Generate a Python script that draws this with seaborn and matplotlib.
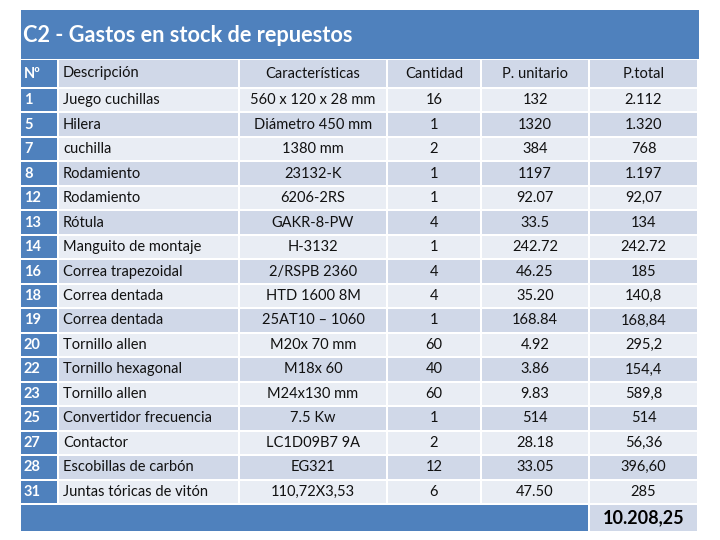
import matplotlib
matplotlib.use("Agg")
import matplotlib.pyplot as plt
import seaborn as sns
from matplotlib.patches import Rectangle

# table content
title = "C2 - Gastos en stock de repuestos"
headers = ["Nº", "Descripción", "Características", "Cantidad", "P. unitario", "P.total"]
numeros = ["1", "5", "7", "8", "12", "13", "14", "16", "18", "19", "20", "22", "23", "25", "27", "28", "31"]
descripcion = ["Juego cuchillas", "Hilera", "cuchilla", "Rodamiento", "Rodamiento", "Rótula",
               "Manguito de montaje", "Correa trapezoidal", "Correa dentada", "Correa dentada",
               "Tornillo allen", "Tornillo hexagonal", "Tornillo allen", "Convertidor frecuencia",
               "Contactor", "Escobillas de carbón", "Juntas tóricas de vitón"]
caracteristicas = ["560 x 120 x 28 mm", "Diámetro 450 mm", "1380 mm", "23132-K", "6206-2RS",
                   "GAKR-8-PW", "H-3132", "2/RSPB 2360", "HTD 1600 8M", "25AT10 – 1060",
                   "M20x 70 mm", "M18x 60", "M24x130 mm", "7.5 Kw", "LC1D09B7 9A", "EG321",
                   "110,72X3,53"]
cantidad = ["16", "1", "2", "1", "1", "4", "1", "4", "4", "1", "60", "40", "60", "1", "2", "12", "6"]
p_unitario = ["132", "1320", "384", "1197", "92.07", "33.5", "242.72", "46.25", "35.20", "168.84",
              "4.92", "3.86", "9.83", "514", "28.18", "33.05", "47.50"]
p_total = ["2.112", "1.320", "768", "1.197", "92,07", "134", "242.72", "185", "140,8", "168,84",
           "295,2", "154,4", "589,8", "514", "56,36", "396,60", "285"]
total = "10.208,25"

sns.set_theme(style="white")
plt.rcParams["font.family"] = ["Lato", "DejaVu Sans"]

BLUE = "#4F81BD"
DARK = "#D0D8E8"
LIGHT = "#E9EDF4"

col_edges = [21, 59, 240, 388, 482, 590, 699]
gap = 2

fig = plt.figure(figsize=(7.2, 5.4), dpi=100)
ax = fig.add_axes([0, 0, 1, 1])
ax.set_xlim(0, 720)
ax.set_ylim(540, 0)
ax.axis("off")


def cell(x0, x1, y0, y1, color):
    ax.add_patch(Rectangle((x0, y0), x1 - x0 - gap, y1 - y0 - gap, facecolor=color, edgecolor="none"))


# title bar
cell(21, 699 + gap, 10, 59 + gap, BLUE)
ax.text(23, 36, title, color="white", fontsize=15.7, fontweight="bold", va="center", ha="left")

# row edges
n = len(numeros)
header_top, header_bot = 60, 89
row_h = (505 - header_bot) / n
row_tops = [header_bot + i * row_h for i in range(n)]


def put(ci, y_mid, txt, **kw):
    x0, x1 = col_edges[ci], col_edges[ci + 1] - gap
    if ci == 0:
        ax.text(x0 + 3, y_mid, txt, ha="left", va="center", **kw)
    elif ci == 1:
        ax.text(x0 + 4, y_mid, txt, ha="left", va="center", **kw)
    else:
        ax.text((x0 + x1) / 2, y_mid, txt, ha="center", va="center", **kw)


# header
for ci, h in enumerate(headers):
    cell(col_edges[ci], col_edges[ci + 1], header_top, header_bot, BLUE if ci == 0 else DARK)
    put(ci, (header_top + header_bot - gap) / 2, h,
        color="white" if ci == 0 else "#111111", fontsize=10.5,
        fontweight="bold" if ci == 0 else "normal")

# body
columns = [numeros, descripcion, caracteristicas, cantidad, p_unitario, p_total]
for ri in range(n):
    y0 = row_tops[ri]
    y1 = y0 + row_h
    bg = LIGHT if ri % 2 == 0 else DARK
    for ci, col in enumerate(columns):
        cell(col_edges[ci], col_edges[ci + 1], y0, y1, BLUE if ci == 0 else bg)
        put(ci, (y0 + y1 - gap) / 2, col[ri],
            color="white" if ci == 0 else "#111111", fontsize=10.5,
            fontweight="bold" if ci == 0 else "normal")

# footer
fy0, fy1 = 505, 533
cell(col_edges[0], col_edges[5], fy0, fy1, BLUE)
cell(col_edges[5], col_edges[6], fy0, fy1, DARK)
put(5, (fy0 + fy1 - gap) / 2, total, color="black", fontsize=13, fontweight="bold")

fig.savefig("out.png", dpi=100)
